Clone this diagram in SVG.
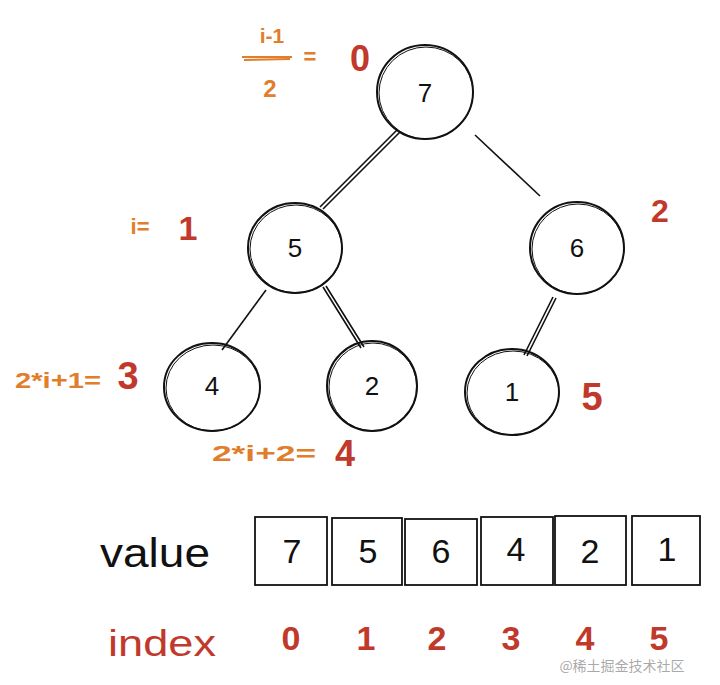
<svg xmlns="http://www.w3.org/2000/svg" width="720" height="685" viewBox="0 0 720 685">
<style>
.node-c{fill:none;stroke:#111;stroke-width:2}
.node-c2{fill:none;stroke:#111;stroke-width:1}
.nt{font-family:"Liberation Sans",Arial,sans-serif;font-size:26px;fill:#111;text-anchor:middle;dominant-baseline:central}
.edge{stroke:#111;stroke-width:1.6;fill:none}
.or{font-family:"Liberation Sans",Arial,sans-serif;fill:#e07e2c;font-weight:bold}
.rd{font-family:"Liberation Sans",Arial,sans-serif;fill:#c0392b;font-weight:bold}
.box{fill:#fff;stroke:#111;stroke-width:1.8}
.bt{font-family:"Liberation Sans",Arial,sans-serif;font-size:34px;fill:#111;text-anchor:middle;dominant-baseline:central}
</style>
<rect width="720" height="685" fill="#fff"/>
<g id="connectors">
  <path class="edge" d="M397 130 L320 207 M400 132 L323 209"/>
  <path class="edge" d="M475 135 L540 196"/>
  <path class="edge" d="M266 290 L222 350"/>
  <path class="edge" d="M323 287 L361 348 M326 286 L364 347"/>
  <path class="edge" d="M553 297 L524 355 M556 298 L527 356"/>
</g>
<g id="node-7"><ellipse class="node-c" cx="425" cy="92" rx="48" ry="47"/><ellipse class="node-c2" cx="426" cy="93" rx="47" ry="46"/><text class="nt" x="425" y="93">7</text></g>
<g id="node-5"><ellipse class="node-c" cx="295" cy="248" rx="47" ry="45"/><ellipse class="node-c2" cx="296" cy="249" rx="46" ry="44"/><text class="nt" x="295" y="248">5</text></g>
<g id="node-6"><ellipse class="node-c" cx="577" cy="248" rx="47" ry="46"/><ellipse class="node-c2" cx="578" cy="249" rx="46" ry="45"/><text class="nt" x="577" y="248">6</text></g>
<g id="node-4"><ellipse class="node-c" cx="212" cy="387" rx="48" ry="44"/><ellipse class="node-c2" cx="213" cy="388" rx="47" ry="43"/><text class="nt" x="212" y="386">4</text></g>
<g id="node-2"><ellipse class="node-c" cx="372" cy="386" rx="45" ry="45"/><ellipse class="node-c2" cx="373" cy="387" rx="44" ry="44"/><text class="nt" x="372" y="386">2</text></g>
<g id="node-1"><ellipse class="node-c" cx="512" cy="392" rx="47" ry="43"/><ellipse class="node-c2" cx="513" cy="393" rx="46" ry="42"/><text class="nt" x="512" y="392">1</text></g>
<g id="annotations">
  <text class="or" x="272" y="43" font-size="21" text-anchor="middle">i-1</text>
  <path d="M242 57 L292 57 M244 60 L290 59" stroke="#e07e2c" stroke-width="2" fill="none"/>
  <text class="or" x="270" y="97" font-size="24" text-anchor="middle">2</text>
  <text class="or" x="310" y="64" font-size="22" text-anchor="middle">=</text>
  <text class="rd" x="360" y="71" font-size="36" text-anchor="middle">0</text>
  <text class="or" x="140" y="234" font-size="22" text-anchor="middle">i=</text>
  <text class="rd" x="188" y="240" font-size="34" text-anchor="middle">1</text>
  <text class="rd" x="660" y="222" font-size="32" text-anchor="middle" fill="#d05a2a">2</text>
  <text class="or" x="15" y="388" font-size="22" textLength="86" lengthAdjust="spacingAndGlyphs">2*i+1=</text>
  <text class="rd" x="128" y="389" font-size="38" text-anchor="middle">3</text>
  <text class="or" x="212" y="461" font-size="22" textLength="104" lengthAdjust="spacingAndGlyphs">2*i+2=</text>
  <text class="rd" x="345" y="466" font-size="36" text-anchor="middle">4</text>
  <text class="rd" x="592" y="410" font-size="38" text-anchor="middle">5</text>
</g>
<g id="array">
  <text x="100" y="567" font-family="Liberation Sans,Arial,sans-serif" font-size="40" fill="#111" textLength="110" lengthAdjust="spacingAndGlyphs">value</text>
  <rect class="box" x="255" y="517" width="72" height="68"/>
  <rect class="box" x="332" y="518" width="70" height="67"/>
  <rect class="box" x="405" y="519" width="72" height="66"/>
  <rect class="box" x="481" y="517" width="72" height="68"/>
  <rect class="box" x="555" y="516" width="71" height="69"/>
  <rect class="box" x="632" y="516" width="68" height="69"/>
  <text class="bt" x="292" y="551">7</text>
  <text class="bt" x="368" y="551">5</text>
  <text class="bt" x="441" y="551">6</text>
  <text class="bt" x="516" y="549">4</text>
  <text class="bt" x="590" y="551">2</text>
  <text class="bt" x="667" y="549">1</text>
</g>
<g id="index-row">
  <text x="108" y="656" font-family="Liberation Sans,Arial,sans-serif" fill="#c0392b" font-size="36" textLength="108" lengthAdjust="spacingAndGlyphs">index</text>
  <text class="rd" x="291" y="650" font-size="34" text-anchor="middle">0</text>
  <text class="rd" x="366" y="650" font-size="34" text-anchor="middle">1</text>
  <text class="rd" x="437" y="650" font-size="34" text-anchor="middle">2</text>
  <text class="rd" x="511" y="650" font-size="34" text-anchor="middle">3</text>
  <text class="rd" x="585" y="650" font-size="34" text-anchor="middle">4</text>
  <text class="rd" x="659" y="650" font-size="34" text-anchor="middle">5</text>
</g>
<text x="622" y="671" font-family="Noto Sans CJK SC,sans-serif" font-size="14" fill="#9a9a9a" fill-opacity="0.85" text-anchor="middle">@稀土掘金技术社区</text>
</svg>
